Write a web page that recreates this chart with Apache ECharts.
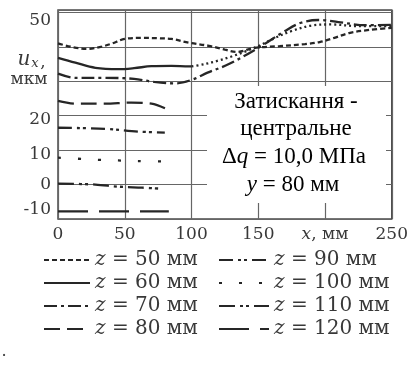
<!DOCTYPE html>
<html><head><meta charset="utf-8">
<script src="https://cdn.jsdelivr.net/npm/echarts@6/dist/echarts.min.js"></script>
<style>html,body{margin:0;padding:0;background:#fff}#c{width:411px;height:371px}</style>
</head><body><div id="c"></div>
<script>
// ---- axis ticks ----
const xTicks = [0, 50, 100, 150, 200, 250];
const xTickLabels = ['0', '50', '100', '150', 'x, мм', '250'];
const yTicks = [-10, 0, 10, 20, 30, 40, 50];
const yTickLabels = ['-10', '0', '10', '20', '', '', '50'];

// ---- series names (legend) ----
const seriesNames = ['z = 50 мм', 'z = 60 мм', 'z = 70 мм', 'z = 80 мм',
                     'z = 90 мм', 'z = 100 мм', 'z = 110 мм', 'z = 120 мм'];

// ---- data (x, mm ; u_x, мкм) ----
const z50_x = [0, 10, 22, 32, 40, 50, 63, 75, 85, 98, 113, 125, 134, 147, 166, 185, 196, 207, 218, 233, 250];
const z50_y = [41.0, 40.0, 39.4, 40.0, 40.9, 42.3, 42.6, 42.5, 42.3, 41.2, 40.3, 39.2, 38.5, 39.7, 40.2, 40.8, 41.4, 42.6, 44.0, 44.9, 45.5];

const z60_x = [0, 13, 28, 45, 57, 70, 85, 100];
const z60_y = [36.8, 35.4, 33.9, 33.5, 33.8, 34.4, 34.5, 34.3];
const z60b_x = [100, 110, 120, 130, 140, 150, 162, 175, 190, 205, 225, 250];
const z60b_y = [34.3, 35.0, 36.0, 37.2, 38.6, 40.2, 42.5, 44.6, 46.2, 46.5, 46.0, 46.0];

const z70_x = [0, 13, 35, 57, 72, 88, 100, 112, 128, 150, 170, 182, 195, 210, 230, 250];
const z70_y = [32.2, 31.0, 31.0, 30.7, 29.8, 29.4, 30.4, 32.5, 35.0, 39.7, 44.6, 47.0, 47.8, 47.2, 46.3, 46.4];

const z80_x = [0, 13, 35, 55, 70, 81];
const z80_y = [24.3, 23.5, 23.5, 23.8, 23.5, 22.0];

const z90_x = [0, 35, 60, 80];
const z90_y = [16.5, 16.2, 15.4, 15.1];

const z100_x = [0, 15, 30, 45, 60, 80];
const z100_y = [7.8, 7.5, 7.2, 7.0, 6.8, 6.7];

const z110_x = [0, 28, 45, 63, 78];
const z110_y = [0.3, 0.0, -0.6, -0.9, -1.2];

const z120_x = [0, 40, 83];
const z120_y = [-7.8, -7.8, -7.8];

// ---- annotation ----
const annotLines = ['Затискання -', 'центральне', 'Δq = 10,0 МПа', 'y = 80 мм'];
const yAxisName = ['u', 'x', ',', 'мкм'];

const FONT = 'DejaVu Serif';
const AFONT = 'Liberation Serif';
const INK = '#262626';
const TXT = '#383838';

function pairs(xs, ys) { return xs.map((x, i) => [x, ys[i]]); }
function mk(name, xs, ys, type, smooth) {
  return {
    type: 'line', name: name, data: pairs(xs, ys), symbol: 'none',
    smooth: smooth === undefined ? 0.35 : smooth,
    lineStyle: { color: INK, width: 2.3, type: type, cap: 'butt' },
    itemStyle: { color: INK }, z: 3, animation: false
  };
}
const series = [
  mk(seriesNames[0], z50_x, z50_y, [5, 3]),
  mk(seriesNames[1], z60_x, z60_y, 'solid'),
  mk(seriesNames[1], z60b_x, z60b_y, [2, 3]),
  mk(seriesNames[2], z70_x, z70_y, [13, 4, 3, 4]),
  mk(seriesNames[3], z80_x, z80_y, [16, 7]),
  mk(seriesNames[4], z90_x, z90_y, [14, 5, 3, 3, 3, 5]),
  mk(seriesNames[5], z100_x, z100_y, [3, 17]),
  mk(seriesNames[6], z110_x, z110_y, [16, 5, 3, 3, 3, 5]),
  mk(seriesNames[7], z120_x, z120_y, [30, 11], false)
];

function italicize(s) {
  return '{i|' + s.charAt(0) + '}' + s.slice(1);
}
const legendRich = { i: { fontFamily: FONT, fontSize: 20, fontStyle: 'italic', color: TXT } };
const annRich = {
  n: { fontFamily: AFONT, fontSize: 23, color: TXT },
  i: { fontFamily: AFONT, fontSize: 23, fontStyle: 'italic', color: TXT }
};

const chart = echarts.init(document.getElementById('c'), null, { renderer: 'canvas' });
chart.setOption({
  backgroundColor: '#fff',
  animation: false,
  grid: { left: 58, right: 18, top: 10, bottom: 152, show: true, borderColor: '#4a4a4a', borderWidth: 1.5, backgroundColor: 'transparent' },
  xAxis: {
    type: 'value', min: 0, max: 250, interval: 50,
    axisLine: { show: false }, axisTick: { show: false },
    splitLine: { show: true, lineStyle: { color: '#666', width: 1.2 } },
    axisLabel: {
      margin: 7, color: TXT, fontFamily: FONT, fontSize: 17,
      formatter: function (v) {
        const i = xTicks.indexOf(v);
        if (i < 0) return '';
        const t = xTickLabels[i];
        return t.indexOf(',') > 0 ? italicize(t) : t;
      },
      rich: { i: { fontFamily: FONT, fontSize: 17, fontStyle: 'italic', color: TXT } }
    }
  },
  yAxis: {
    type: 'value', min: -10, max: 50.7, interval: 10,
    axisLine: { show: false }, axisTick: { show: false },
    splitLine: { show: true, lineStyle: { color: '#666', width: 1.2 } },
    axisLabel: {
      margin: 7, color: TXT, fontFamily: FONT, fontSize: 17,
      formatter: function (v) {
        const i = yTicks.indexOf(v);
        if (i < 0) return '';
        const t = yTickLabels[i];
        if (!t) return '';
        if (v === -10) return '{up|' + t + '}';
        if (v === 50) return '{dn|' + t + '}';
        if (v === 20 || v === 10) return '{dn4|' + t + '}';
        return t;
      },
      rich: {
        up: { fontFamily: FONT, fontSize: 17, color: TXT, padding: [0, 0, 18, 0] },
        dn: { fontFamily: FONT, fontSize: 17, color: TXT, padding: [16, 0, 0, 0] },
        dn4: { fontFamily: FONT, fontSize: 17, color: TXT, padding: [8, 0, 0, 0] }
      }
    }
  },
  legend: [
    {
      data: seriesNames.slice(0, 4), orient: 'vertical', left: 43, top: 250, padding: 0,
      itemWidth: 46, itemHeight: 14, itemGap: 3, selectedMode: false,
      itemStyle: { opacity: 0 },
      formatter: italicize,
      textStyle: { fontFamily: FONT, fontSize: 20, color: TXT, lineHeight: 20, rich: legendRich }
    },
    {
      data: seriesNames.slice(4), orient: 'vertical', left: 218, top: 250, padding: 0,
      itemWidth: 50, itemHeight: 14, itemGap: 3, selectedMode: false,
      itemStyle: { opacity: 0 },
      formatter: italicize,
      textStyle: { fontFamily: FONT, fontSize: 20, color: TXT, lineHeight: 20, rich: legendRich }
    }
  ],
  graphic: [
    { type: 'rect', z: 50, shape: { x: 207, y: 86, width: 179, height: 117 }, style: { fill: '#fff' } },
    { type: 'text', z: 51, x: 296, y: 102, style: { text: '{n|' + annotLines[0] + '}', align: 'center', verticalAlign: 'middle', rich: annRich } },
    { type: 'text', z: 51, x: 296, y: 129, style: { text: '{n|' + annotLines[1] + '}', align: 'center', verticalAlign: 'middle', rich: annRich } },
    { type: 'text', z: 51, x: 294, y: 157, style: {
        text: '{n|Δ}{i|q}{n|' + annotLines[2].slice(2) + '}', align: 'center', verticalAlign: 'middle', rich: annRich } },
    { type: 'text', z: 51, x: 293, y: 185, style: {
        text: '{i|y}{n|' + annotLines[3].slice(1) + '}', align: 'center', verticalAlign: 'middle', rich: annRich } },
    { type: 'text', z: 51, x: 24, y: 60, style: { text: yAxisName[0], font: 'italic 20px "DejaVu Serif"', fill: TXT, align: 'center', verticalAlign: 'middle' } },
    { type: 'text', z: 51, x: 35, y: 64, style: { text: yAxisName[1], font: 'italic 13px "DejaVu Serif"', fill: TXT, align: 'center', verticalAlign: 'middle' } },
    { type: 'text', z: 51, x: 43, y: 63, style: { text: yAxisName[2], font: '17px "DejaVu Serif"', fill: TXT, align: 'center', verticalAlign: 'middle' } },
    { type: 'text', z: 51, x: 29, y: 80, style: { text: yAxisName[3], font: '17px "DejaVu Serif"', fill: TXT, align: 'center', verticalAlign: 'middle' } },
    { type: 'text', z: 51, x: 4, y: 352, style: { text: '.', font: '16px "DejaVu Serif"', fill: TXT, align: 'center', verticalAlign: 'middle' } }
  ],
  series: series
});
</script>
</body></html>
